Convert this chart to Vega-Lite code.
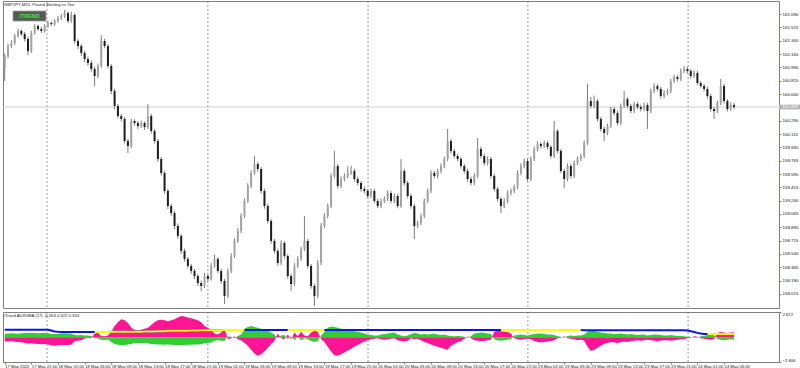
{
"$schema":"https://vega.github.io/schema/vega-lite/v6.json",
"padding":0,
"background":"white",
"spacing":2,
"config":{"view":{"stroke":"#808080","strokeWidth":1},"axis":{"labelFont":"Liberation Sans","labelFontSize":4.2,"labelColor":"#111","domainColor":"#808080","tickColor":"#808080","tickSize":2,"labelPadding":1,"grid":false,"labelOverlap":false}},
"resolve":{"scale":{"x":"independent","y":"independent"}},
"datasets":{
"grid":[{"t":12.7},{"t":61.0},{"t":109.1},{"t":157.1},{"t":205.2}],
"ohlc":[
{"t":0,"o":160.980,"h":161.170,"l":160.811,"c":161.139},
{"t":1,"o":161.139,"h":161.300,"l":161.110,"c":161.270},
{"t":2,"o":161.270,"h":161.345,"l":161.240,"c":161.310},
{"t":3,"o":161.310,"h":161.430,"l":161.285,"c":161.402},
{"t":4,"o":161.402,"h":161.500,"l":161.380,"c":161.467},
{"t":5,"o":161.467,"h":161.490,"l":161.400,"c":161.428},
{"t":6,"o":161.428,"h":161.455,"l":161.330,"c":161.362},
{"t":7,"o":161.362,"h":161.390,"l":161.150,"c":161.204},
{"t":8,"o":161.204,"h":161.470,"l":161.180,"c":161.441},
{"t":9,"o":161.441,"h":161.560,"l":161.420,"c":161.533},
{"t":10,"o":161.533,"h":161.555,"l":161.470,"c":161.493},
{"t":11,"o":161.493,"h":161.520,"l":161.440,"c":161.467},
{"t":12,"o":161.467,"h":161.560,"l":161.445,"c":161.533},
{"t":13,"o":161.533,"h":161.600,"l":161.510,"c":161.572},
{"t":14,"o":161.572,"h":161.595,"l":161.530,"c":161.558},
{"t":15,"o":161.558,"h":161.625,"l":161.535,"c":161.598},
{"t":16,"o":161.598,"h":161.665,"l":161.575,"c":161.638},
{"t":17,"o":161.638,"h":161.690,"l":161.610,"c":161.664},
{"t":18,"o":161.664,"h":161.745,"l":161.640,"c":161.703},
{"t":19,"o":161.703,"h":161.725,"l":161.570,"c":161.598},
{"t":20,"o":161.598,"h":161.720,"l":161.575,"c":161.677},
{"t":21,"o":161.677,"h":161.700,"l":161.300,"c":161.336},
{"t":22,"o":161.336,"h":161.360,"l":161.230,"c":161.270},
{"t":23,"o":161.270,"h":161.300,"l":161.140,"c":161.178},
{"t":24,"o":161.178,"h":161.210,"l":161.060,"c":161.099},
{"t":25,"o":161.099,"h":161.130,"l":161.010,"c":161.047},
{"t":26,"o":161.047,"h":161.080,"l":160.930,"c":160.968},
{"t":27,"o":160.968,"h":161.000,"l":160.745,"c":160.876},
{"t":28,"o":160.876,"h":161.040,"l":160.850,"c":161.008},
{"t":29,"o":161.008,"h":161.410,"l":160.985,"c":161.336},
{"t":30,"o":161.336,"h":161.365,"l":161.240,"c":161.270},
{"t":31,"o":161.270,"h":161.295,"l":160.970,"c":161.008},
{"t":32,"o":161.008,"h":161.035,"l":160.640,"c":160.679},
{"t":33,"o":160.679,"h":160.710,"l":160.440,"c":160.483},
{"t":34,"o":160.483,"h":160.510,"l":160.320,"c":160.351},
{"t":35,"o":160.351,"h":160.380,"l":160.280,"c":160.312},
{"t":36,"o":160.312,"h":160.340,"l":159.990,"c":160.023},
{"t":37,"o":160.023,"h":160.050,"l":159.866,"c":159.957},
{"t":38,"o":159.957,"h":160.320,"l":159.930,"c":160.286},
{"t":39,"o":160.286,"h":160.310,"l":160.225,"c":160.259},
{"t":40,"o":160.259,"h":160.285,"l":160.180,"c":160.220},
{"t":41,"o":160.220,"h":160.290,"l":160.195,"c":160.259},
{"t":42,"o":160.259,"h":160.280,"l":160.170,"c":160.207},
{"t":43,"o":160.207,"h":160.509,"l":160.180,"c":160.351},
{"t":44,"o":160.351,"h":160.380,"l":160.120,"c":160.154},
{"t":45,"o":160.154,"h":160.180,"l":159.990,"c":160.023},
{"t":46,"o":160.023,"h":160.050,"l":159.750,"c":159.787},
{"t":47,"o":159.787,"h":159.815,"l":159.570,"c":159.603},
{"t":48,"o":159.603,"h":159.630,"l":159.330,"c":159.367},
{"t":49,"o":159.367,"h":159.395,"l":159.130,"c":159.170},
{"t":50,"o":159.170,"h":159.200,"l":159.040,"c":159.078},
{"t":51,"o":159.078,"h":159.105,"l":158.870,"c":158.908},
{"t":52,"o":158.908,"h":158.940,"l":158.740,"c":158.776},
{"t":53,"o":158.776,"h":158.805,"l":158.540,"c":158.579},
{"t":54,"o":158.579,"h":158.610,"l":158.440,"c":158.474},
{"t":55,"o":158.474,"h":158.500,"l":158.350,"c":158.383},
{"t":56,"o":158.383,"h":158.410,"l":158.280,"c":158.317},
{"t":57,"o":158.317,"h":158.345,"l":158.210,"c":158.251},
{"t":58,"o":158.251,"h":158.280,"l":158.120,"c":158.159},
{"t":59,"o":158.159,"h":158.190,"l":158.050,"c":158.120},
{"t":60,"o":158.120,"h":158.290,"l":158.095,"c":158.251},
{"t":61,"o":158.251,"h":158.275,"l":158.180,"c":158.212},
{"t":62,"o":158.212,"h":158.420,"l":158.190,"c":158.383},
{"t":63,"o":158.383,"h":158.530,"l":158.360,"c":158.474},
{"t":64,"o":158.474,"h":158.500,"l":158.290,"c":158.317},
{"t":65,"o":158.317,"h":158.345,"l":158.150,"c":158.186},
{"t":66,"o":158.186,"h":158.215,"l":157.884,"c":157.989},
{"t":67,"o":157.989,"h":158.350,"l":157.960,"c":158.317},
{"t":68,"o":158.317,"h":158.550,"l":158.290,"c":158.514},
{"t":69,"o":158.514,"h":158.745,"l":158.490,"c":158.711},
{"t":70,"o":158.711,"h":158.880,"l":158.685,"c":158.842},
{"t":71,"o":158.842,"h":159.075,"l":158.815,"c":159.039},
{"t":72,"o":159.039,"h":159.270,"l":159.010,"c":159.236},
{"t":73,"o":159.236,"h":159.470,"l":159.210,"c":159.433},
{"t":74,"o":159.433,"h":159.640,"l":159.405,"c":159.603},
{"t":75,"o":159.603,"h":159.826,"l":159.580,"c":159.721},
{"t":76,"o":159.721,"h":159.750,"l":159.620,"c":159.656},
{"t":77,"o":159.656,"h":159.685,"l":159.330,"c":159.367},
{"t":78,"o":159.367,"h":159.395,"l":159.135,"c":159.170},
{"t":79,"o":159.170,"h":159.200,"l":158.940,"c":158.973},
{"t":80,"o":158.973,"h":159.000,"l":158.675,"c":158.711},
{"t":81,"o":158.711,"h":158.740,"l":158.545,"c":158.579},
{"t":82,"o":158.579,"h":158.610,"l":158.385,"c":158.422},
{"t":83,"o":158.422,"h":158.720,"l":158.395,"c":158.684},
{"t":84,"o":158.684,"h":158.710,"l":158.480,"c":158.514},
{"t":85,"o":158.514,"h":158.540,"l":158.215,"c":158.251},
{"t":86,"o":158.251,"h":158.280,"l":158.054,"c":158.146},
{"t":87,"o":158.146,"h":158.420,"l":158.120,"c":158.383},
{"t":88,"o":158.383,"h":158.510,"l":158.355,"c":158.474},
{"t":89,"o":158.474,"h":158.640,"l":158.450,"c":158.606},
{"t":90,"o":158.606,"h":159.039,"l":158.580,"c":158.711},
{"t":91,"o":158.711,"h":158.740,"l":158.350,"c":158.383},
{"t":92,"o":158.383,"h":158.410,"l":158.085,"c":158.120},
{"t":93,"o":158.120,"h":158.150,"l":157.857,"c":157.989},
{"t":94,"o":157.989,"h":158.460,"l":157.960,"c":158.422},
{"t":95,"o":158.422,"h":158.945,"l":158.395,"c":158.908},
{"t":96,"o":158.908,"h":159.075,"l":158.880,"c":159.039},
{"t":97,"o":159.039,"h":159.205,"l":159.010,"c":159.170},
{"t":98,"o":159.170,"h":159.600,"l":159.140,"c":159.564},
{"t":99,"o":159.564,"h":159.892,"l":159.535,"c":159.695},
{"t":100,"o":159.695,"h":159.725,"l":159.400,"c":159.433},
{"t":101,"o":159.433,"h":159.560,"l":159.405,"c":159.524},
{"t":102,"o":159.524,"h":159.600,"l":159.495,"c":159.564},
{"t":103,"o":159.564,"h":159.690,"l":159.535,"c":159.603},
{"t":104,"o":159.603,"h":159.700,"l":159.575,"c":159.629},
{"t":105,"o":159.629,"h":159.660,"l":159.490,"c":159.524},
{"t":106,"o":159.524,"h":159.555,"l":159.440,"c":159.472},
{"t":107,"o":159.472,"h":159.500,"l":159.360,"c":159.393},
{"t":108,"o":159.393,"h":159.425,"l":159.335,"c":159.367},
{"t":109,"o":159.367,"h":159.395,"l":159.270,"c":159.301},
{"t":110,"o":159.301,"h":159.400,"l":159.275,"c":159.367},
{"t":111,"o":159.367,"h":159.395,"l":159.205,"c":159.236},
{"t":112,"o":159.236,"h":159.265,"l":159.140,"c":159.170},
{"t":113,"o":159.170,"h":159.270,"l":159.145,"c":159.236},
{"t":114,"o":159.236,"h":159.295,"l":159.210,"c":159.262},
{"t":115,"o":159.262,"h":159.375,"l":159.235,"c":159.341},
{"t":116,"o":159.341,"h":159.370,"l":159.205,"c":159.236},
{"t":117,"o":159.236,"h":159.335,"l":159.210,"c":159.301},
{"t":118,"o":159.301,"h":159.330,"l":159.140,"c":159.170},
{"t":119,"o":159.170,"h":159.787,"l":159.145,"c":159.629},
{"t":120,"o":159.629,"h":159.660,"l":159.440,"c":159.472},
{"t":121,"o":159.472,"h":159.500,"l":159.270,"c":159.301},
{"t":122,"o":159.301,"h":159.330,"l":159.135,"c":159.170},
{"t":123,"o":159.170,"h":159.200,"l":158.737,"c":158.908},
{"t":124,"o":158.908,"h":158.980,"l":158.880,"c":158.947},
{"t":125,"o":158.947,"h":159.070,"l":158.920,"c":159.039},
{"t":126,"o":159.039,"h":159.270,"l":159.010,"c":159.236},
{"t":127,"o":159.236,"h":159.400,"l":159.210,"c":159.367},
{"t":128,"o":159.367,"h":159.640,"l":159.340,"c":159.603},
{"t":129,"o":159.603,"h":159.630,"l":159.530,"c":159.564},
{"t":130,"o":159.564,"h":159.660,"l":159.535,"c":159.629},
{"t":131,"o":159.629,"h":159.730,"l":159.600,"c":159.695},
{"t":132,"o":159.695,"h":159.820,"l":159.665,"c":159.787},
{"t":133,"o":159.787,"h":160.181,"l":159.760,"c":160.023},
{"t":134,"o":160.023,"h":160.050,"l":159.860,"c":159.892},
{"t":135,"o":159.892,"h":159.920,"l":159.795,"c":159.826},
{"t":136,"o":159.826,"h":159.855,"l":159.755,"c":159.787},
{"t":137,"o":159.787,"h":159.815,"l":159.660,"c":159.695},
{"t":138,"o":159.695,"h":159.725,"l":159.595,"c":159.629},
{"t":139,"o":159.629,"h":159.660,"l":159.490,"c":159.524},
{"t":140,"o":159.524,"h":159.555,"l":159.440,"c":159.472},
{"t":141,"o":159.472,"h":159.600,"l":159.445,"c":159.564},
{"t":142,"o":159.564,"h":160.062,"l":159.535,"c":159.918},
{"t":143,"o":159.918,"h":159.950,"l":159.795,"c":159.826},
{"t":144,"o":159.826,"h":159.855,"l":159.700,"c":159.734},
{"t":145,"o":159.734,"h":159.820,"l":159.705,"c":159.787},
{"t":146,"o":159.787,"h":159.815,"l":159.530,"c":159.564},
{"t":147,"o":159.564,"h":159.595,"l":159.360,"c":159.393},
{"t":148,"o":159.393,"h":159.420,"l":159.230,"c":159.262},
{"t":149,"o":159.262,"h":159.290,"l":159.078,"c":159.170},
{"t":150,"o":159.170,"h":159.270,"l":159.140,"c":159.236},
{"t":151,"o":159.236,"h":159.375,"l":159.205,"c":159.341},
{"t":152,"o":159.341,"h":159.400,"l":159.310,"c":159.367},
{"t":153,"o":159.367,"h":159.450,"l":159.340,"c":159.419},
{"t":154,"o":159.419,"h":159.640,"l":159.390,"c":159.603},
{"t":155,"o":159.603,"h":159.730,"l":159.575,"c":159.695},
{"t":156,"o":159.695,"h":159.795,"l":159.665,"c":159.761},
{"t":157,"o":159.761,"h":159.790,"l":159.490,"c":159.524},
{"t":158,"o":159.524,"h":159.820,"l":159.495,"c":159.787},
{"t":159,"o":159.787,"h":159.950,"l":159.760,"c":159.918},
{"t":160,"o":159.918,"h":160.020,"l":159.890,"c":159.984},
{"t":161,"o":159.984,"h":160.010,"l":159.925,"c":159.957},
{"t":162,"o":159.957,"h":160.030,"l":159.930,"c":159.997},
{"t":163,"o":159.997,"h":160.025,"l":159.915,"c":159.944},
{"t":164,"o":159.944,"h":159.970,"l":159.795,"c":159.826},
{"t":165,"o":159.826,"h":160.286,"l":159.800,"c":160.154},
{"t":166,"o":160.154,"h":160.180,"l":159.860,"c":159.892},
{"t":167,"o":159.892,"h":159.920,"l":159.600,"c":159.629},
{"t":168,"o":159.629,"h":159.660,"l":159.406,"c":159.524},
{"t":169,"o":159.524,"h":159.730,"l":159.495,"c":159.695},
{"t":170,"o":159.695,"h":159.725,"l":159.530,"c":159.564},
{"t":171,"o":159.564,"h":159.765,"l":159.535,"c":159.734},
{"t":172,"o":159.734,"h":159.820,"l":159.705,"c":159.787},
{"t":173,"o":159.787,"h":159.855,"l":159.760,"c":159.826},
{"t":174,"o":159.826,"h":160.030,"l":159.800,"c":159.997},
{"t":175,"o":159.997,"h":160.772,"l":159.970,"c":160.548},
{"t":176,"o":160.548,"h":160.600,"l":160.450,"c":160.483},
{"t":177,"o":160.483,"h":160.620,"l":160.455,"c":160.548},
{"t":178,"o":160.548,"h":160.575,"l":160.280,"c":160.312},
{"t":179,"o":160.312,"h":160.340,"l":160.150,"c":160.181},
{"t":180,"o":160.181,"h":160.210,"l":160.023,"c":160.128},
{"t":181,"o":160.128,"h":160.250,"l":160.100,"c":160.220},
{"t":182,"o":160.220,"h":160.475,"l":160.195,"c":160.443},
{"t":183,"o":160.443,"h":160.470,"l":160.360,"c":160.391},
{"t":184,"o":160.391,"h":160.420,"l":160.225,"c":160.259},
{"t":185,"o":160.259,"h":160.515,"l":160.230,"c":160.483},
{"t":186,"o":160.483,"h":160.679,"l":160.455,"c":160.574},
{"t":187,"o":160.574,"h":160.600,"l":160.450,"c":160.483},
{"t":188,"o":160.483,"h":160.510,"l":160.385,"c":160.417},
{"t":189,"o":160.417,"h":160.540,"l":160.390,"c":160.509},
{"t":190,"o":160.509,"h":160.535,"l":160.440,"c":160.469},
{"t":191,"o":160.469,"h":160.500,"l":160.410,"c":160.443},
{"t":192,"o":160.443,"h":160.530,"l":160.415,"c":160.496},
{"t":193,"o":160.496,"h":160.525,"l":160.181,"c":160.417},
{"t":194,"o":160.417,"h":160.710,"l":160.390,"c":160.679},
{"t":195,"o":160.679,"h":160.780,"l":160.650,"c":160.745},
{"t":196,"o":160.745,"h":160.770,"l":160.675,"c":160.706},
{"t":197,"o":160.706,"h":160.735,"l":160.580,"c":160.614},
{"t":198,"o":160.614,"h":160.690,"l":160.585,"c":160.653},
{"t":199,"o":160.653,"h":160.710,"l":160.625,"c":160.679},
{"t":200,"o":160.679,"h":160.840,"l":160.650,"c":160.811},
{"t":201,"o":160.811,"h":160.895,"l":160.785,"c":160.863},
{"t":202,"o":160.863,"h":160.890,"l":160.805,"c":160.837},
{"t":203,"o":160.837,"h":160.975,"l":160.810,"c":160.942},
{"t":204,"o":160.942,"h":161.008,"l":160.915,"c":160.968},
{"t":205,"o":160.968,"h":160.995,"l":160.910,"c":160.942},
{"t":206,"o":160.942,"h":160.970,"l":160.845,"c":160.876},
{"t":207,"o":160.876,"h":160.950,"l":160.850,"c":160.916},
{"t":208,"o":160.916,"h":160.945,"l":160.755,"c":160.784},
{"t":209,"o":160.784,"h":160.810,"l":160.715,"c":160.745},
{"t":210,"o":160.745,"h":160.775,"l":160.675,"c":160.706},
{"t":211,"o":160.706,"h":160.735,"l":160.580,"c":160.614},
{"t":212,"o":160.614,"h":160.640,"l":160.410,"c":160.443},
{"t":213,"o":160.443,"h":160.470,"l":160.312,"c":160.417},
{"t":214,"o":160.417,"h":160.555,"l":160.390,"c":160.522},
{"t":215,"o":160.522,"h":160.837,"l":160.495,"c":160.745},
{"t":216,"o":160.745,"h":160.775,"l":160.515,"c":160.548},
{"t":217,"o":160.548,"h":160.575,"l":160.410,"c":160.443},
{"t":218,"o":160.443,"h":160.530,"l":160.415,"c":160.496},
{"t":219,"o":160.496,"h":160.525,"l":160.440,"c":160.469}
],
"ind":[
{"t":0,"g":0.38,"m":-0.42,"v":0.8,"k":"b","s":0},
{"t":1,"g":0.40,"m":-0.45,"v":0.8,"k":"b","s":0},
{"t":2,"g":0.42,"m":-0.40,"v":0.8,"k":"b","s":0},
{"t":3,"g":0.40,"m":-0.48,"v":0.8,"k":"b","s":0},
{"t":4,"g":0.38,"m":-0.50,"v":0.8,"k":"b","s":0},
{"t":5,"g":0.42,"m":-0.52,"v":0.8,"k":"b","s":0},
{"t":6,"g":0.45,"m":-0.60,"v":0.8,"k":"b","s":0},
{"t":7,"g":0.45,"m":-0.65,"v":0.8,"k":"b","s":0},
{"t":8,"g":0.48,"m":-0.62,"v":0.8,"k":"b","s":0},
{"t":9,"g":0.45,"m":-0.68,"v":0.8,"k":"b","s":0},
{"t":10,"g":0.44,"m":-0.70,"v":0.8,"k":"b","s":0},
{"t":11,"g":0.46,"m":-0.72,"v":0.8,"k":"b","s":0},
{"t":12,"g":0.45,"m":-0.70,"v":0.8,"k":"b","s":0},
{"t":13,"g":0.42,"m":-0.75,"v":0.8,"k":"b","s":0},
{"t":14,"g":0.35,"m":-0.85,"v":0.72,"k":"b","s":0},
{"t":15,"g":0.36,"m":-0.88,"v":0.62,"k":"b","s":0},
{"t":16,"g":0.34,"m":-0.85,"v":0.58,"k":"b","s":0},
{"t":17,"g":0.40,"m":-0.80,"v":0.57,"k":"b","s":0},
{"t":18,"g":0.42,"m":-0.82,"v":0.57,"k":"b","s":0},
{"t":19,"g":0.40,"m":-0.80,"v":0.57,"k":"b","s":0},
{"t":20,"g":0.38,"m":-0.78,"v":0.57,"k":"b","s":0},
{"t":21,"g":0.25,"m":-0.40,"v":0.57,"k":"b","s":0},
{"t":22,"g":0.22,"m":-0.35,"v":0.57,"k":"b","s":0},
{"t":23,"g":0.25,"m":-0.30,"v":0.57,"k":"b","s":0},
{"t":24,"g":0.20,"m":-0.12,"v":0.57,"k":"b","s":0},
{"t":25,"g":0.18,"m":-0.08,"v":0.57,"k":"b","s":0},
{"t":26,"g":0.15,"m":-0.10,"v":0.56,"k":"b","s":0},
{"t":27,"g":-0.10,"m":0.40,"v":0.56,"k":"y","s":1},
{"t":28,"g":-0.12,"m":0.48,"v":0.56,"k":"y","s":1},
{"t":29,"g":-0.25,"m":0.15,"v":0.57,"k":"y","s":1},
{"t":30,"g":-0.28,"m":0.10,"v":0.57,"k":"y","s":1},
{"t":31,"g":-0.22,"m":0.20,"v":0.57,"k":"y","s":1},
{"t":32,"g":-0.50,"m":0.60,"v":0.58,"k":"y","s":1},
{"t":33,"g":-0.70,"m":1.20,"v":0.58,"k":"y","s":1},
{"t":34,"g":-0.78,"m":1.60,"v":0.58,"k":"y","s":1},
{"t":35,"g":-0.80,"m":1.90,"v":0.58,"k":"y","s":1},
{"t":36,"g":-0.80,"m":1.80,"v":0.58,"k":"y","s":1},
{"t":37,"g":-0.75,"m":1.50,"v":0.60,"k":"y","s":1},
{"t":38,"g":-0.70,"m":1.00,"v":0.60,"k":"y","s":1},
{"t":39,"g":-0.60,"m":0.80,"v":0.60,"k":"y","s":1},
{"t":40,"g":-0.60,"m":0.72,"v":0.60,"k":"y","s":1},
{"t":41,"g":-0.62,"m":0.80,"v":0.60,"k":"y","s":1},
{"t":42,"g":-0.60,"m":0.90,"v":0.62,"k":"y","s":1},
{"t":43,"g":-0.62,"m":1.00,"v":0.62,"k":"y","s":1},
{"t":44,"g":-0.70,"m":1.30,"v":0.62,"k":"y","s":1},
{"t":45,"g":-0.72,"m":1.60,"v":0.62,"k":"y","s":1},
{"t":46,"g":-0.75,"m":1.80,"v":0.65,"k":"y","s":1},
{"t":47,"g":-0.75,"m":1.85,"v":0.65,"k":"y","s":1},
{"t":48,"g":-0.78,"m":1.80,"v":0.65,"k":"y","s":1},
{"t":49,"g":-0.75,"m":1.70,"v":0.68,"k":"y","s":1},
{"t":50,"g":-0.78,"m":1.80,"v":0.68,"k":"y","s":1},
{"t":51,"g":-0.80,"m":1.90,"v":0.68,"k":"y","s":1},
{"t":52,"g":-0.80,"m":2.10,"v":0.68,"k":"y","s":1},
{"t":53,"g":-0.82,"m":2.25,"v":0.70,"k":"y","s":1},
{"t":54,"g":-0.80,"m":2.20,"v":0.70,"k":"y","s":1},
{"t":55,"g":-0.78,"m":2.10,"v":0.70,"k":"y","s":1},
{"t":56,"g":-0.78,"m":2.00,"v":0.72,"k":"y","s":1},
{"t":57,"g":-0.76,"m":1.90,"v":0.72,"k":"y","s":1},
{"t":58,"g":-0.75,"m":1.80,"v":0.72,"k":"y","s":1},
{"t":59,"g":-0.72,"m":1.60,"v":0.74,"k":"y","s":1},
{"t":60,"g":-0.62,"m":1.20,"v":0.74,"k":"y","s":1},
{"t":61,"g":-0.60,"m":1.00,"v":0.74,"k":"y","s":1},
{"t":62,"g":-0.55,"m":0.80,"v":0.75,"k":"y","s":1},
{"t":63,"g":-0.35,"m":0.40,"v":0.75,"k":"y","s":1},
{"t":64,"g":-0.30,"m":0.30,"v":0.75,"k":"y","s":1},
{"t":65,"g":-0.35,"m":0.50,"v":0.75,"k":"y","s":1},
{"t":66,"g":-0.38,"m":0.90,"v":0.76,"k":"y","s":1},
{"t":67,"g":0.10,"m":-0.20,"v":0.76,"k":"y","s":1},
{"t":68,"g":0.05,"m":-0.10,"v":0.76,"k":"y","s":1},
{"t":69,"g":-0.10,"m":0.10,"v":0.76,"k":"y","s":1},
{"t":70,"g":0.15,"m":-0.20,"v":0.76,"k":"y","s":1},
{"t":71,"g":0.30,"m":-0.30,"v":0.76,"k":"y","s":1},
{"t":72,"g":0.90,"m":-0.60,"v":0.77,"k":"y","s":1},
{"t":73,"g":1.10,"m":-0.90,"v":0.77,"k":"b","s":0},
{"t":74,"g":1.20,"m":-1.30,"v":0.77,"k":"b","s":0},
{"t":75,"g":1.10,"m":-1.70,"v":0.77,"k":"b","s":0},
{"t":76,"g":1.00,"m":-1.95,"v":0.77,"k":"b","s":0},
{"t":77,"g":0.90,"m":-1.80,"v":0.77,"k":"b","s":0},
{"t":78,"g":0.80,"m":-1.50,"v":0.77,"k":"b","s":0},
{"t":79,"g":0.70,"m":-1.10,"v":0.77,"k":"b","s":0},
{"t":80,"g":0.50,"m":-0.70,"v":0.77,"k":"b","s":0},
{"t":81,"g":0.30,"m":-0.40,"v":0.77,"k":"b","s":0},
{"t":82,"g":-0.10,"m":0.40,"v":0.77,"k":"b","s":0},
{"t":83,"g":0.20,"m":-0.10,"v":0.77,"k":"b","s":0},
{"t":84,"g":0.25,"m":-0.20,"v":0.77,"k":"b","s":0},
{"t":85,"g":-0.20,"m":0.30,"v":0.77,"k":"y","s":2},
{"t":86,"g":0.10,"m":-0.20,"v":0.77,"k":"y","s":2},
{"t":87,"g":-0.30,"m":0.50,"v":0.77,"k":"y","s":2},
{"t":88,"g":0.05,"m":0.10,"v":0.77,"k":"y","s":2},
{"t":89,"g":-0.30,"m":0.60,"v":0.77,"k":"y","s":2},
{"t":90,"g":-0.10,"m":0.20,"v":0.77,"k":"y","s":2},
{"t":91,"g":-0.20,"m":0.10,"v":0.77,"k":"y","s":2},
{"t":92,"g":-0.40,"m":0.50,"v":0.77,"k":"y","s":2},
{"t":93,"g":-0.50,"m":0.70,"v":0.77,"k":"y","s":2},
{"t":94,"g":-0.40,"m":0.60,"v":0.77,"k":"y","s":2},
{"t":95,"g":0.20,"m":-0.20,"v":0.77,"k":"y","s":2},
{"t":96,"g":0.60,"m":-0.50,"v":0.77,"k":"y","s":2},
{"t":97,"g":1.00,"m":-1.00,"v":0.76,"k":"b","s":0},
{"t":98,"g":1.15,"m":-1.50,"v":0.76,"k":"b","s":0},
{"t":99,"g":1.10,"m":-1.90,"v":0.76,"k":"b","s":0},
{"t":100,"g":1.00,"m":-1.95,"v":0.76,"k":"b","s":0},
{"t":101,"g":0.90,"m":-1.80,"v":0.76,"k":"b","s":0},
{"t":102,"g":0.85,"m":-1.60,"v":0.76,"k":"b","s":0},
{"t":103,"g":0.80,"m":-1.40,"v":0.76,"k":"b","s":0},
{"t":104,"g":0.70,"m":-1.20,"v":0.76,"k":"b","s":0},
{"t":105,"g":0.65,"m":-1.00,"v":0.76,"k":"b","s":0},
{"t":106,"g":0.60,"m":-0.80,"v":0.76,"k":"b","s":0},
{"t":107,"g":0.50,"m":-0.60,"v":0.76,"k":"b","s":0},
{"t":108,"g":0.40,"m":-0.45,"v":0.76,"k":"b","s":0},
{"t":109,"g":0.30,"m":-0.30,"v":0.76,"k":"b","s":0},
{"t":110,"g":0.25,"m":-0.20,"v":0.76,"k":"b","s":0},
{"t":111,"g":0.20,"m":-0.15,"v":0.76,"k":"b","s":0},
{"t":112,"g":0.20,"m":-0.10,"v":0.76,"k":"b","s":0},
{"t":113,"g":0.30,"m":-0.20,"v":0.76,"k":"b","s":0},
{"t":114,"g":0.35,"m":-0.25,"v":0.76,"k":"b","s":0},
{"t":115,"g":0.40,"m":-0.20,"v":0.76,"k":"b","s":0},
{"t":116,"g":0.45,"m":-0.15,"v":0.76,"k":"b","s":0},
{"t":117,"g":0.50,"m":-0.10,"v":0.76,"k":"b","s":0},
{"t":118,"g":0.30,"m":-0.30,"v":0.76,"k":"b","s":0},
{"t":119,"g":0.20,"m":-0.40,"v":0.76,"k":"b","s":0},
{"t":120,"g":0.10,"m":-0.45,"v":0.76,"k":"b","s":0},
{"t":121,"g":0.20,"m":-0.35,"v":0.76,"k":"b","s":0},
{"t":122,"g":0.35,"m":-0.10,"v":0.76,"k":"b","s":0},
{"t":123,"g":0.45,"m":-0.20,"v":0.76,"k":"b","s":0},
{"t":124,"g":0.40,"m":-0.15,"v":0.76,"k":"b","s":0},
{"t":125,"g":0.30,"m":-0.30,"v":0.76,"k":"b","s":0},
{"t":126,"g":0.35,"m":-0.50,"v":0.76,"k":"b","s":0},
{"t":127,"g":0.30,"m":-0.60,"v":0.76,"k":"b","s":0},
{"t":128,"g":0.35,"m":-0.75,"v":0.76,"k":"b","s":0},
{"t":129,"g":0.40,"m":-0.90,"v":0.76,"k":"b","s":0},
{"t":130,"g":0.30,"m":-1.00,"v":0.76,"k":"b","s":0},
{"t":131,"g":0.25,"m":-1.10,"v":0.76,"k":"b","s":0},
{"t":132,"g":0.30,"m":-1.20,"v":0.76,"k":"b","s":0},
{"t":133,"g":0.20,"m":-1.30,"v":0.76,"k":"b","s":0},
{"t":134,"g":0.15,"m":-0.90,"v":0.76,"k":"b","s":0},
{"t":135,"g":0.10,"m":-0.70,"v":0.76,"k":"b","s":0},
{"t":136,"g":0.15,"m":-0.50,"v":0.76,"k":"b","s":0},
{"t":137,"g":0.10,"m":-0.45,"v":0.76,"k":"b","s":0},
{"t":138,"g":0.05,"m":-0.15,"v":0.76,"k":"b","s":0},
{"t":139,"g":-0.05,"m":0.10,"v":0.76,"k":"b","s":0},
{"t":140,"g":0.10,"m":-0.10,"v":0.76,"k":"b","s":0},
{"t":141,"g":0.40,"m":-0.30,"v":0.76,"k":"b","s":0},
{"t":142,"g":0.45,"m":-0.35,"v":0.76,"k":"b","s":0},
{"t":143,"g":0.50,"m":-0.40,"v":0.76,"k":"b","s":0},
{"t":144,"g":0.45,"m":-0.40,"v":0.76,"k":"b","s":0},
{"t":145,"g":0.40,"m":-0.30,"v":0.76,"k":"b","s":0},
{"t":146,"g":0.35,"m":-0.25,"v":0.76,"k":"b","s":0},
{"t":147,"g":-0.20,"m":0.60,"v":0.76,"k":"b","s":0},
{"t":148,"g":-0.30,"m":0.70,"v":0.76,"k":"b","s":0},
{"t":149,"g":-0.35,"m":0.65,"v":0.76,"k":"y","s":3},
{"t":150,"g":-0.30,"m":0.60,"v":0.76,"k":"y","s":3},
{"t":151,"g":-0.25,"m":0.55,"v":0.76,"k":"y","s":3},
{"t":152,"g":-0.20,"m":0.40,"v":0.76,"k":"y","s":3},
{"t":153,"g":0.20,"m":-0.10,"v":0.76,"k":"y","s":3},
{"t":154,"g":0.25,"m":-0.20,"v":0.76,"k":"y","s":3},
{"t":155,"g":0.30,"m":-0.25,"v":0.76,"k":"y","s":3},
{"t":156,"g":0.25,"m":-0.20,"v":0.76,"k":"y","s":3},
{"t":157,"g":0.20,"m":-0.15,"v":0.76,"k":"y","s":3},
{"t":158,"g":0.30,"m":-0.20,"v":0.76,"k":"y","s":3},
{"t":159,"g":0.35,"m":-0.40,"v":0.76,"k":"y","s":3},
{"t":160,"g":0.40,"m":-0.50,"v":0.76,"k":"y","s":3},
{"t":161,"g":0.40,"m":-0.55,"v":0.76,"k":"y","s":3},
{"t":162,"g":0.35,"m":-0.50,"v":0.76,"k":"y","s":3},
{"t":163,"g":0.30,"m":-0.45,"v":0.76,"k":"y","s":3},
{"t":164,"g":0.30,"m":-0.40,"v":0.76,"k":"y","s":3},
{"t":165,"g":0.25,"m":-0.30,"v":0.76,"k":"y","s":3},
{"t":166,"g":0.10,"m":-0.10,"v":0.76,"k":"y","s":3},
{"t":167,"g":0.05,"m":-0.05,"v":0.76,"k":"y","s":3},
{"t":168,"g":-0.05,"m":0.10,"v":0.76,"k":"y","s":3},
{"t":169,"g":0.15,"m":-0.10,"v":0.76,"k":"y","s":3},
{"t":170,"g":0.20,"m":-0.15,"v":0.76,"k":"y","s":3},
{"t":171,"g":0.15,"m":-0.20,"v":0.76,"k":"y","s":3},
{"t":172,"g":0.20,"m":-0.30,"v":0.76,"k":"y","s":3},
{"t":173,"g":0.20,"m":-0.25,"v":0.76,"k":"y","s":3},
{"t":174,"g":0.30,"m":-0.35,"v":0.75,"k":"b","s":0},
{"t":175,"g":0.60,"m":-1.00,"v":0.75,"k":"b","s":0},
{"t":176,"g":0.75,"m":-1.45,"v":0.75,"k":"b","s":0},
{"t":177,"g":0.70,"m":-1.30,"v":0.75,"k":"b","s":0},
{"t":178,"g":0.60,"m":-1.10,"v":0.75,"k":"b","s":0},
{"t":179,"g":0.50,"m":-0.90,"v":0.75,"k":"b","s":0},
{"t":180,"g":0.45,"m":-0.70,"v":0.75,"k":"b","s":0},
{"t":181,"g":0.40,"m":-0.60,"v":0.75,"k":"b","s":0},
{"t":182,"g":0.40,"m":-0.50,"v":0.75,"k":"b","s":0},
{"t":183,"g":0.35,"m":-0.55,"v":0.75,"k":"b","s":0},
{"t":184,"g":0.35,"m":-0.60,"v":0.75,"k":"b","s":0},
{"t":185,"g":0.40,"m":-0.50,"v":0.75,"k":"b","s":0},
{"t":186,"g":0.35,"m":-0.45,"v":0.75,"k":"b","s":0},
{"t":187,"g":0.30,"m":-0.50,"v":0.75,"k":"b","s":0},
{"t":188,"g":0.35,"m":-0.40,"v":0.75,"k":"b","s":0},
{"t":189,"g":0.30,"m":-0.35,"v":0.75,"k":"b","s":0},
{"t":190,"g":0.25,"m":-0.30,"v":0.75,"k":"b","s":0},
{"t":191,"g":0.30,"m":-0.35,"v":0.75,"k":"b","s":0},
{"t":192,"g":0.30,"m":-0.30,"v":0.75,"k":"b","s":0},
{"t":193,"g":0.20,"m":-0.25,"v":0.75,"k":"b","s":0},
{"t":194,"g":0.25,"m":-0.30,"v":0.75,"k":"b","s":0},
{"t":195,"g":0.30,"m":-0.35,"v":0.75,"k":"b","s":0},
{"t":196,"g":0.30,"m":-0.40,"v":0.75,"k":"b","s":0},
{"t":197,"g":0.25,"m":-0.35,"v":0.75,"k":"b","s":0},
{"t":198,"g":0.20,"m":-0.30,"v":0.75,"k":"b","s":0},
{"t":199,"g":0.20,"m":-0.30,"v":0.75,"k":"b","s":0},
{"t":200,"g":0.25,"m":-0.35,"v":0.75,"k":"b","s":0},
{"t":201,"g":0.20,"m":-0.30,"v":0.75,"k":"b","s":0},
{"t":202,"g":0.15,"m":-0.25,"v":0.75,"k":"b","s":0},
{"t":203,"g":0.15,"m":-0.20,"v":0.75,"k":"b","s":0},
{"t":204,"g":0.10,"m":-0.20,"v":0.75,"k":"b","s":0},
{"t":205,"g":0.05,"m":-0.10,"v":0.72,"k":"b","s":0},
{"t":206,"g":0.05,"m":-0.05,"v":0.65,"k":"b","s":0},
{"t":207,"g":-0.05,"m":0.10,"v":0.56,"k":"b","s":0},
{"t":208,"g":-0.05,"m":0.05,"v":0.47,"k":"b","s":0},
{"t":209,"g":0.10,"m":-0.10,"v":0.40,"k":"b","s":0},
{"t":210,"g":0.15,"m":-0.15,"v":0.36,"k":"b","s":0},
{"t":211,"g":0.25,"m":-0.20,"v":0.353,"k":"y","s":4},
{"t":212,"g":0.30,"m":-0.25,"v":0.353,"k":"y","s":4},
{"t":213,"g":0.25,"m":-0.20,"v":0.353,"k":"y","s":4},
{"t":214,"g":-0.20,"m":0.45,"v":0.353,"k":"y","s":4},
{"t":215,"g":-0.25,"m":0.55,"v":0.353,"k":"y","s":4},
{"t":216,"g":-0.30,"m":0.50,"v":0.353,"k":"y","s":4},
{"t":217,"g":-0.25,"m":0.45,"v":0.353,"k":"y","s":4},
{"t":218,"g":-0.20,"m":0.50,"v":0.353,"k":"y","s":4},
{"t":219,"g":-0.263,"m":0.522,"v":0.353,"k":"y","s":4}
]
},
"vconcat":[
{
"width":776,"height":307,
"encoding":{"x":{"field":"t","type":"quantitative","scale":{"domain":[-0.51,232.5],"nice":false,"zero":false,"padding":0},"axis":null}},
"layer":[
{"data":{"name":"grid"},"mark":{"type":"rule","color":"#6e6e6e","strokeDash":[2,2],"strokeWidth":0.7}},
{"data":{"values":[{"t":-0.51,"t2":232.5,"p":160.469}]},"mark":{"type":"rule","color":"#cfcfcf","strokeWidth":1},
 "encoding":{"x2":{"field":"t2"},"y":{"field":"p","type":"quantitative","title":null,"scale":{"domain":[157.831,161.861],"nice":false,"zero":false},
 "axis":{"orient":"right","values":[158.015,158.19,158.365,158.54,158.715,158.89,159.065,159.24,159.415,159.59,159.765,159.94,160.115,160.29,160.64,160.815,160.99,161.165,161.34,161.515,161.69],"format":".3f","title":null,"labelOverlap":false,"labelFontSize":4.4,"labelBound":false,"tickCount":21}}}},
{"data":{"name":"ohlc"},"mark":{"type":"rule","strokeWidth":1,"color":"#7c7c7c"},
 "encoding":{"y":{"field":"l","type":"quantitative","title":null,"scale":{"domain":[157.831,161.861],"nice":false,"zero":false},
 "axis":{"orient":"right","values":[158.015,158.19,158.365,158.54,158.715,158.89,159.065,159.24,159.415,159.59,159.765,159.94,160.115,160.29,160.64,160.815,160.99,161.165,161.34,161.515,161.69],"format":".3f","title":null,"labelOverlap":false,"labelFontSize":4.4,"labelBound":false,"tickCount":21}},"y2":{"field":"h"}}},
{"data":{"name":"ohlc"},"mark":{"type":"bar","size":2},
 "encoding":{"y":{"field":"o","type":"quantitative","title":null,"scale":{"domain":[157.831,161.861],"nice":false,"zero":false},
 "axis":{"orient":"right","values":[158.015,158.19,158.365,158.54,158.715,158.89,159.065,159.24,159.415,159.59,159.765,159.94,160.115,160.29,160.64,160.815,160.99,161.165,161.34,161.515,161.69],"format":".3f","title":null,"labelOverlap":false,"labelFontSize":4.4,"labelBound":false,"tickCount":21}},"y2":{"field":"c"},
 "color":{"condition":{"test":"datum.c >= datum.o","value":"#a3a3a3"},"value":"#1e1e1e"}}},
{"data":{"values":[{"t":-0.2,"p":161.81,"label":"GBPJPY,M15:  Pound Sterling vs Yen"}]},"mark":{"type":"text","align":"left","baseline":"middle","fontSize":4.3,"font":"Liberation Sans","color":"#222"},
 "encoding":{"y":{"field":"p","type":"quantitative","title":null,"scale":{"domain":[157.831,161.861],"nice":false,"zero":false},
 "axis":{"orient":"right","values":[158.015,158.19,158.365,158.54,158.715,158.89,159.065,159.24,159.415,159.59,159.765,159.94,160.115,160.29,160.64,160.815,160.99,161.165,161.34,161.515,161.69],"format":".3f","title":null,"labelOverlap":false,"labelFontSize":4.4,"labelBound":false,"tickCount":21}},"text":{"field":"label"}}},
{"data":{"values":[{"t":2.5,"t2":12.4,"p":161.729,"p2":161.598}]},"mark":{"type":"rect","fill":"#585858","stroke":"#9a9a9a","strokeWidth":0.8},
 "encoding":{"x2":{"field":"t2"},"y":{"field":"p","type":"quantitative","title":null,"scale":{"domain":[157.831,161.861],"nice":false,"zero":false},
 "axis":{"orient":"right","values":[158.015,158.19,158.365,158.54,158.715,158.89,159.065,159.24,159.415,159.59,159.765,159.94,160.115,160.29,160.64,160.815,160.99,161.165,161.34,161.515,161.69],"format":".3f","title":null,"labelOverlap":false,"labelFontSize":4.4,"labelBound":false,"tickCount":21}},"y2":{"field":"p2"}}},
{"data":{"values":[{"t":7.45,"p":161.662,"label":"iTREND"}]},"mark":{"type":"text","align":"center","baseline":"middle","fontSize":5.5,"font":"Liberation Sans","fontWeight":"bold","color":"#3fe03f"},
 "encoding":{"y":{"field":"p","type":"quantitative","title":null,"scale":{"domain":[157.831,161.861],"nice":false,"zero":false},
 "axis":{"orient":"right","values":[158.015,158.19,158.365,158.54,158.715,158.89,159.065,159.24,159.415,159.59,159.765,159.94,160.115,160.29,160.64,160.815,160.99,161.165,161.34,161.515,161.69],"format":".3f","title":null,"labelOverlap":false,"labelFontSize":4.4,"labelBound":false,"tickCount":21}},"text":{"field":"label"}}},
{"data":{"values":[{"t":232.5,"t2":239.6,"p":160.500,"p2":160.438}]},"mark":{"type":"rect","fill":"#b4b4b4","clip":false},
 "encoding":{"x2":{"field":"t2"},"y":{"field":"p","type":"quantitative","title":null,"scale":{"domain":[157.831,161.861],"nice":false,"zero":false},
 "axis":{"orient":"right","values":[158.015,158.19,158.365,158.54,158.715,158.89,159.065,159.24,159.415,159.59,159.765,159.94,160.115,160.29,160.64,160.815,160.99,161.165,161.34,161.515,161.69],"format":".3f","title":null,"labelOverlap":false,"labelFontSize":4.4,"labelBound":false,"tickCount":21}},"y2":{"field":"p2"}}},
{"data":{"values":[{"t":233.4,"p":160.469,"label":"160.469"}]},"mark":{"type":"text","align":"left","baseline":"middle","fontSize":4.4,"font":"Liberation Sans","color":"#ffffff"},
 "encoding":{"y":{"field":"p","type":"quantitative","title":null,"scale":{"domain":[157.831,161.861],"nice":false,"zero":false},
 "axis":{"orient":"right","values":[158.015,158.19,158.365,158.54,158.715,158.89,159.065,159.24,159.415,159.59,159.765,159.94,160.115,160.29,160.64,160.815,160.99,161.165,161.34,161.515,161.69],"format":".3f","title":null,"labelOverlap":false,"labelFontSize":4.4,"labelBound":false,"tickCount":21}},"text":{"field":"label"}}}
]
},
{
"width":776,"height":50,
"encoding":{"x":{"field":"t","type":"quantitative","scale":{"domain":[-0.51,232.5],"nice":false,"zero":false,"padding":0},
 "axis":{"values":[0,8,16,24,32,40,48,56,64,72,80,88,96,104,112,120,128,136,144,152,160,168,176,184,192,200,208,216],"labelAlign":"left","labelPadding":0,"tickSize":2,"labelFlush":false,"labelOverlap":false,"title":null,
 "labelExpr":"['17 May 2022','17 May 21:00','18 May 01:00','18 May 05:00','18 May 09:00','18 May 13:00','18 May 17:00','18 May 21:00','19 May 01:00','19 May 05:00','19 May 09:00','19 May 13:00','19 May 17:00','19 May 21:00','20 May 01:00','20 May 05:00','20 May 09:00','20 May 13:00','20 May 17:00','20 May 21:00','23 May 01:00','23 May 05:00','23 May 09:00','23 May 13:00','23 May 17:00','23 May 21:00','24 May 01:00','24 May 05:00'][round(datum.value/8)]"}}},
"layer":[
{"data":{"name":"grid"},"mark":{"type":"rule","color":"#6e6e6e","strokeDash":[2,2],"strokeWidth":0.7}},
{"data":{"name":"ind"},"mark":{"type":"area","color":"#33cc33"},
 "encoding":{"y":{"field":"g","type":"quantitative","title":null,"scale":{"domain":[-2.606,2.672],"nice":false,"zero":false},
 "axis":{"orient":"right","values":[2.672,-2.606],"format":".3f","title":null,"labelFlush":true}},"y2":{"datum":0}}},
{"data":{"name":"ind"},"mark":{"type":"area","color":"#ff1493"},
 "encoding":{"y":{"field":"m","type":"quantitative","title":null,"scale":{"domain":[-2.606,2.672],"nice":false,"zero":false}},"y2":{"datum":0}}},
{"data":{"name":"ind"},"mark":{"type":"line","color":"#0a14e6","strokeWidth":2},
 "encoding":{"y":{"field":"v","type":"quantitative","title":null,"scale":{"domain":[-2.606,2.672],"nice":false,"zero":false}}}},
{"data":{"name":"ind"},"transform":[{"filter":"datum.k == 'y'"}],"mark":{"type":"line","color":"#ffff00","strokeWidth":2},
 "encoding":{"y":{"field":"v","type":"quantitative","title":null,"scale":{"domain":[-2.606,2.672],"nice":false,"zero":false}},"detail":{"field":"s","type":"nominal"}}},
{"data":{"values":[{"t":-0.2,"p":2.25,"label":"iTrend ADXVMA (17) -0.263 0.522 0.353"}]},"mark":{"type":"text","align":"left","baseline":"middle","fontSize":4.2,"font":"Liberation Sans","color":"#222"},
 "encoding":{"y":{"field":"p","type":"quantitative","title":null,"scale":{"domain":[-2.606,2.672],"nice":false,"zero":false}},"text":{"field":"label"}}}
]
}
]
}
